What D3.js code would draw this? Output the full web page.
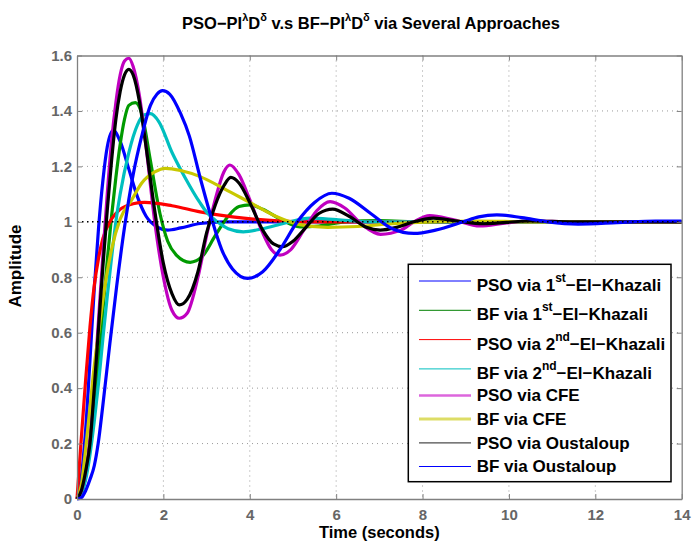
<!DOCTYPE html>
<html>
<head>
<meta charset="utf-8">
<script src="https://cdn.jsdelivr.net/npm/d3@7"></script>
<style>
body { margin: 0; background: #fff; }
svg { display: block; font-family: "Liberation Sans", Arial, sans-serif; font-weight: bold; }
</style>
</head>
<body>
<svg id="drawing_region"></svg>
<script>
// values (time in s, amplitude)
var psoEk1T = [0, 0.1, 0.2, 0.3, 0.4, 0.5, 0.6, 0.7, 0.84, 1.0, 1.2, 1.4, 1.6, 1.85, 2.1, 2.4, 2.85, 3.4, 6, 10, 14];
var psoEk1Y = [0, 0.08, 0.25, 0.5, 0.76, 0.98, 1.15, 1.27, 1.33, 1.29, 1.19, 1.09, 1.02, 0.982, 0.970, 0.978, 0.994, 1.0, 1.0, 1.0, 1.0];

var bfEk1T = [0, 0.1, 0.2, 0.3, 0.4, 0.5, 0.6, 0.7, 0.8, 0.9, 1.0, 1.1, 1.2, 1.35, 1.5, 1.7, 1.92, 2.1, 2.3, 2.62, 2.9, 3.2, 3.5, 3.75, 4.0, 4.3, 4.7, 5.16, 5.6, 6.2, 7, 8, 10, 14];
var bfEk1Y = [0, 0.02, 0.08, 0.18, 0.33, 0.5, 0.68, 0.86, 1.02, 1.16, 1.28, 1.37, 1.42, 1.43, 1.39, 1.22, 1.03, 0.93, 0.88, 0.854, 0.875, 0.95, 1.02, 1.055, 1.061, 1.045, 1.01, 0.982, 0.985, 1.0, 1.004, 1.0, 1.0, 1.0];

var psoEk2T = [0, 0.1, 0.2, 0.3, 0.4, 0.5, 0.6, 0.8, 1.0, 1.3, 1.57, 2.2, 2.85, 3.6, 4.4, 5.2, 7, 10, 14];
var psoEk2Y = [0, 0.22, 0.43, 0.62, 0.77, 0.87, 0.94, 1.01, 1.045, 1.065, 1.07, 1.058, 1.036, 1.018, 1.006, 1.0, 1.0, 1.0, 1.0];

var bfEk2T = [0, 0.1, 0.2, 0.3, 0.4, 0.5, 0.6, 0.7, 0.8, 0.9, 1.0, 1.2, 1.4, 1.55, 1.7, 1.9, 2.2, 2.5, 2.85, 3.0, 3.25, 3.5, 3.85, 4.3, 4.8, 5.4, 6.0, 6.8, 8, 10, 14];
var bfEk2Y = [0, 0.02, 0.07, 0.16, 0.28, 0.42, 0.58, 0.73, 0.87, 1.0, 1.1, 1.25, 1.35, 1.385, 1.39, 1.36, 1.25, 1.16, 1.068, 1.035, 1.0, 0.975, 0.964, 0.975, 0.995, 1.013, 1.008, 1.0, 1.0, 1.0, 1.0];

var psoCfeT = [0, 0.1, 0.2, 0.3, 0.4, 0.5, 0.6, 0.7, 0.8, 0.9, 1.0, 1.1, 1.2, 1.3, 1.45, 1.6, 1.8, 2.0, 2.2, 2.37, 2.55, 2.8, 3.0, 3.2, 3.4, 3.54, 3.75, 4.0, 4.3, 4.5, 4.7, 4.95, 5.25, 5.55, 5.86, 6.2, 6.6, 7.03, 7.5, 7.8, 8.17, 8.7, 9.33, 9.9, 10.5, 11.5, 14];
var psoCfeY = [0, 0.03, 0.1, 0.22, 0.42, 0.65, 0.88, 1.1, 1.29, 1.43, 1.53, 1.58, 1.59, 1.56, 1.45, 1.27, 1.0, 0.8, 0.68, 0.652, 0.67, 0.8, 0.95, 1.08, 1.18, 1.205, 1.17, 1.08, 0.96, 0.9, 0.88, 0.9, 0.97, 1.04, 1.073, 1.05, 0.99, 0.955, 0.97, 1.0, 1.022, 1.008, 0.985, 0.995, 1.003, 1.0, 1.0];

var bfCfeT = [0, 0.1, 0.2, 0.3, 0.4, 0.5, 0.6, 0.8, 1.0, 1.27, 1.5, 1.8, 2.05, 2.4, 2.85, 3.4, 4.0, 4.6, 5.16, 5.8, 6.5, 7.3, 8.2, 9.3, 10.5, 14];
var bfCfeY = [0, 0.05, 0.18, 0.33, 0.48, 0.6, 0.72, 0.9, 1.01, 1.08, 1.14, 1.18, 1.193, 1.185, 1.163, 1.12, 1.07, 1.02, 0.99, 0.98, 0.983, 0.993, 1.0, 1.003, 1.0, 1.0];

var psoOusT = [0, 0.1, 0.2, 0.3, 0.4, 0.5, 0.6, 0.7, 0.8, 0.9, 1.0, 1.1, 1.2, 1.3, 1.45, 1.6, 1.8, 2.0, 2.2, 2.37, 2.55, 2.8, 3.0, 3.2, 3.4, 3.56, 3.75, 4.0, 4.3, 4.55, 4.76, 5.0, 5.3, 5.6, 5.92, 6.3, 6.7, 7.02, 7.4, 7.8, 8.25, 8.8, 9.4, 10.5, 11.5, 14];
var psoOusY = [0, 0.03, 0.1, 0.2, 0.4, 0.62, 0.84, 1.04, 1.22, 1.37, 1.47, 1.53, 1.55, 1.53, 1.43, 1.27, 1.04, 0.85, 0.74, 0.70, 0.72, 0.82, 0.96, 1.06, 1.13, 1.16, 1.14, 1.07, 0.97, 0.92, 0.91, 0.93, 0.98, 1.03, 1.046, 1.02, 0.98, 0.97, 0.98, 1.0, 1.013, 1.003, 0.993, 1.003, 1.0, 1.0];

var bfOusT = [0, 0.1, 0.2, 0.3, 0.4, 0.49, 0.6, 0.76, 0.92, 1.1, 1.3, 1.5, 1.7, 1.85, 1.98, 2.15, 2.4, 2.6, 2.85, 3.1, 3.35, 3.6, 3.95, 4.3, 4.7, 5.1, 5.5, 5.9, 6.3, 6.8, 7.3, 7.8, 8.3, 8.94, 9.3, 9.72, 10.3, 10.9, 11.6, 12.5, 13.4, 14];
var bfOusY = [0, 0.005, 0.03, 0.07, 0.12, 0.2, 0.34, 0.56, 0.77, 0.98, 1.17, 1.31, 1.42, 1.46, 1.473, 1.46, 1.39, 1.31, 1.16, 1.02, 0.9, 0.83, 0.796, 0.82, 0.9, 1.0, 1.07, 1.103, 1.085, 1.03, 0.975, 0.958, 0.97, 1.0, 1.018, 1.025, 1.015, 1.0, 0.992, 0.997, 1.003, 1.003];

var legendNames = [
    ['PSO via 1', 'st', '\u2212El\u2212Khazali'],
    ['BF via 1', 'st', '\u2212El\u2212Khazali'],
    ['PSO via 2', 'nd', '\u2212El\u2212Khazali'],
    ['BF via 2', 'nd', '\u2212El\u2212Khazali'],
    ['PSO via CFE', '', ''],
    ['BF via CFE', '', ''],
    ['PSO via Oustaloup', '', ''],
    ['BF via Oustaloup', '', '']
];
var xTicks = [0, 2, 4, 6, 8, 10, 12, 14];
var yTicks = [0, 0.2, 0.4, 0.6, 0.8, 1, 1.2, 1.4, 1.6];
var yTickLabels = ['0', '0.2', '0.4', '0.6', '0.8', '1', '1.2', '1.4', '1.6'];
var refLevel = [1];

var curveColors = ['#0000ff', '#009a00', '#ff0000', '#00bfbf', '#c000c0', '#c8c800', '#000000', '#0000ff'];
var legendColors = ['#0000ff', '#008000', '#ff0000', '#00bfbf', '#dd66dd', '#dddd66', '#4d4d4d', '#0000ff'];
var legendWidths = [1, 1, 1, 1, 2.5, 3, 1.3, 1];

var series = [
    [psoEk1T, psoEk1Y], [bfEk1T, bfEk1Y], [psoEk2T, psoEk2Y], [bfEk2T, bfEk2Y],
    [psoCfeT, psoCfeY], [bfCfeT, bfCfeY], [psoOusT, psoOusY], [bfOusT, bfOusY]
].map(function(s, i) {
    return { name: legendNames[i], color: curveColors[i],
             pts: s[0].map(function(t, j) { return { t: t, y: s[1][j] }; }) };
});

var margin = { top: 55.5, right: 11.3, bottom: 44, left: 77 };
var width = 693 - margin.left - margin.right;
var height = 543 - margin.top - margin.bottom;

var svg = d3.select('#drawing_region')
    .attr('width', width + margin.left + margin.right)
    .attr('height', height + margin.top + margin.bottom)
    .append('g')
    .attr('transform', 'translate(' + margin.left + ',' + margin.top + ')');

var xScale = d3.scaleLinear().domain([0, 14]).range([0, width]);
var yScale = d3.scaleLinear().domain([0, 1.6]).range([height, 0]);

// dotted grid
svg.selectAll('.gx').data(xTicks.slice(1, -1)).enter().append('line')
    .attr('x1', d => xScale(d)).attr('x2', d => xScale(d))
    .attr('y1', 0).attr('y2', height)
    .attr('stroke', '#9a9a9a').attr('stroke-width', 1).attr('stroke-dasharray', '1,4');
svg.selectAll('.gy').data(yTicks.slice(1, -1)).enter().append('line')
    .attr('x1', 0).attr('x2', width)
    .attr('y1', d => yScale(d)).attr('y2', d => yScale(d))
    .attr('stroke', '#9a9a9a').attr('stroke-width', 1).attr('stroke-dasharray', '1,4');

var line = d3.line()
    .x(d => xScale(d.t))
    .y(d => yScale(d.y))
    .curve(d3.curveMonotoneX);

svg.selectAll('.curve').data(series).enter().append('path')
    .attr('d', d => line(d.pts))
    .attr('fill', 'none')
    .attr('stroke', d => d.color)
    .attr('stroke-width', 3.2)
    .attr('stroke-linejoin', 'round');

// reference level
svg.selectAll('.ref').data(refLevel).enter().append('line')
    .attr('x1', xScale(0)).attr('x2', xScale(14))
    .attr('y1', d => yScale(d)).attr('y2', d => yScale(d))
    .attr('stroke', '#000').attr('stroke-width', 1.5).attr('stroke-dasharray', '1.5,3.5');

function styleAxis(g) {
    g.select('.domain').attr('stroke', '#808080').attr('stroke-width', 1.3);
    g.selectAll('.tick line').attr('stroke', '#808080').attr('stroke-width', 1);
    g.selectAll('.tick text').attr('fill', '#666').style('font-size', '15px')
        .style('font-weight', 'bold').style('font-family', '"Liberation Sans", Arial, sans-serif');
}

svg.append('g')
    .attr('transform', 'translate(0,' + height + ')')
    .call(d3.axisBottom(xScale).tickValues(xTicks).tickSizeInner(-5).tickSizeOuter(0).tickPadding(10).tickFormat(d3.format('d')))
    .call(styleAxis);
svg.append('g')
    .call(d3.axisTop(xScale).tickValues(xTicks).tickSizeInner(-5).tickSizeOuter(0).tickFormat(''))
    .call(styleAxis);
svg.append('g')
    .call(d3.axisLeft(yScale).tickValues(yTicks).tickSizeInner(-5).tickSizeOuter(0).tickPadding(5).tickFormat((d, i) => yTickLabels[i]))
    .call(styleAxis);
svg.append('g')
    .attr('transform', 'translate(' + width + ',0)')
    .call(d3.axisRight(yScale).tickValues(yTicks).tickSizeInner(-5).tickSizeOuter(0).tickFormat(''))
    .call(styleAxis);

// title
var title = svg.append('text')
    .attr('x', 294).attr('y', 29.3 - margin.top)
    .attr('text-anchor', 'middle')
    .style('font-size', '16.5px')
    .attr('fill', '#000');
title.append('tspan').text('PSO\u2212PI');
title.append('tspan').attr('dy', -8.5).style('font-size', '11px').text('\u03bb');
title.append('tspan').attr('dy', 8.5).text('D');
title.append('tspan').attr('dy', -8.5).style('font-size', '11px').text('\u03b4');
title.append('tspan').attr('dy', 8.5).text(' v.s BF\u2212PI');
title.append('tspan').attr('dy', -8.5).style('font-size', '11px').text('\u03bb');
title.append('tspan').attr('dy', 8.5).text('D');
title.append('tspan').attr('dy', -8.5).style('font-size', '11px').text('\u03b4');
title.append('tspan').attr('dy', 8.5).text(' via Several Approaches');

svg.append('text')
    .attr('x', width / 2)
    .attr('y', height + 38.5)
    .style('text-anchor', 'middle')
    .style('font-size', '16.5px')
    .text('Time (seconds)');

svg.append('text')
    .attr('transform', 'rotate(-90)')
    .attr('y', 21 - margin.left)
    .attr('x', -(266 - margin.top))
    .style('text-anchor', 'middle')
    .style('font-size', '17px')
    .text('Amplitude');

// legend
var lg = svg.append('g').attr('transform', 'translate(' + (408.3 - margin.left) + ',' + (264.3 - margin.top) + ')');
lg.append('rect')
    .attr('width', 262.7).attr('height', 217.4)
    .attr('fill', '#fff').attr('stroke', '#000').attr('stroke-width', 1.5);

var rowY = [];
var yy = 16.7;
legendNames.forEach(function(n, i) {
    if (i > 0) {
        var hPrev = legendNames[i - 1][1] ? 29.3 : 23.7;
        var hCur = n[1] ? 29.3 : 23.7;
        yy += (hPrev + hCur) / 2;
    }
    rowY.push(yy);
});

var rows = lg.selectAll('.row').data(series).enter().append('g')
    .attr('transform', (d, i) => 'translate(0,' + rowY[i] + ')');
rows.append('line')
    .attr('x1', 10.7).attr('x2', 62.7)
    .attr('stroke', (d, i) => legendColors[i])
    .attr('stroke-width', (d, i) => legendWidths[i]);
var lt = rows.append('text')
    .attr('x', 68.4)
    .attr('y', d => d.name[1] ? 10 : 5.9)
    .style('font-size', '17px')
    .attr('fill', '#000');
lt.append('tspan').text(d => d.name[0]);
lt.filter(d => d.name[1]).append('tspan').attr('dy', -9).style('font-size', '12px').text(d => d.name[1]);
lt.filter(d => d.name[1]).append('tspan').attr('dy', 9).text(d => d.name[2]);
</script>
</body>
</html>
